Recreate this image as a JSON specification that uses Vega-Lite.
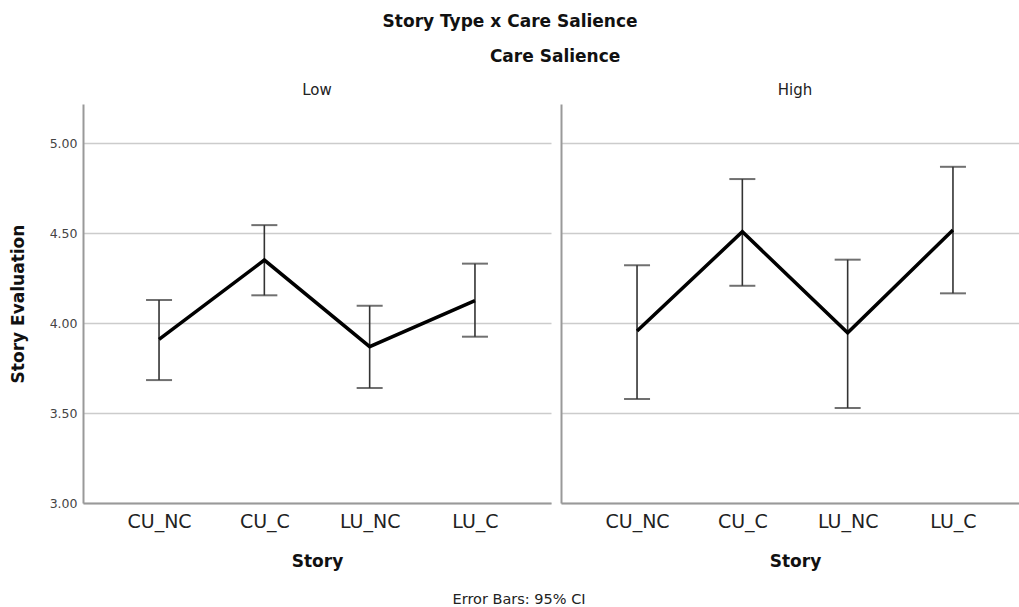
{
  "$schema": "https://vega.github.io/schema/vega-lite/v6.json",
  "background": "white",
  "padding": {"left": 9, "top": 13, "right": 0, "bottom": 0},
  "config": {
    "font": "DejaVu Sans",
    "view": {"stroke": null},
    "concat": {"spacing": 10},
    "axisY": {
      "grid": true,
      "gridColor": "#cccccc",
      "gridWidth": 1.5,
      "domainColor": "#999999",
      "domainWidth": 2,
      "ticks": false,
      "labelFontSize": 12.5,
      "labelColor": "#444444",
      "labelPadding": 6,
      "titleFontSize": 17,
      "titleFontWeight": "bold",
      "titleColor": "#111111",
      "titlePadding": 22
    },
    "axisX": {
      "labelAngle": 0,
      "labelFontSize": 19,
      "labelColor": "#222222",
      "labelPadding": 9,
      "ticks": false,
      "grid": false,
      "domainColor": "#999999",
      "domainWidth": 2,
      "titleFontSize": 17,
      "titleFontWeight": "bold",
      "titleColor": "#111111",
      "titlePadding": 22
    }
  },
  "title": {"text": "Story Type x Care Salience", "fontSize": 17, "fontWeight": "bold", "color": "#111111", "anchor": "middle", "offset": 17, "dx": -9},
  "datasets": {
    "means": [
      {"care": "Low", "story": "CU_NC", "mean": 3.909, "lo": 3.683, "hi": 4.128},
      {"care": "Low", "story": "CU_C", "mean": 4.35, "lo": 4.154, "hi": 4.544},
      {"care": "Low", "story": "LU_NC", "mean": 3.869, "lo": 3.639, "hi": 4.096},
      {"care": "Low", "story": "LU_C", "mean": 4.124, "lo": 3.924, "hi": 4.33},
      {"care": "High", "story": "CU_NC", "mean": 3.956, "lo": 3.578, "hi": 4.321},
      {"care": "High", "story": "CU_C", "mean": 4.507, "lo": 4.207, "hi": 4.8},
      {"care": "High", "story": "LU_NC", "mean": 3.946, "lo": 3.528, "hi": 4.352},
      {"care": "High", "story": "LU_C", "mean": 4.517, "lo": 4.165, "hi": 4.868}
    ]
  },
  "vconcat": [
    {
      "title": {"text": "Error Bars: 95% CI", "orient": "bottom", "fontSize": 14.5, "fontWeight": "normal", "color": "#222222", "anchor": "middle", "offset": 24},
      "vconcat": [
        {
          "title": {"text": "Care Salience", "fontSize": 17, "fontWeight": "bold", "color": "#111111", "anchor": "middle", "dx": 36, "offset": 17},
          "spacing": 10,
          "hconcat": [
            {
              "width": 468,
              "height": 399,
              "title": {"text": "Low", "fontSize": 15, "fontWeight": "normal", "color": "#222222", "offset": 6},
              "data": {"name": "means"},
              "transform": [{"filter": "datum.care === 'Low'"}],
              "encoding": {
                "x": {"field": "story", "type": "ordinal", "sort": ["CU_NC", "CU_C", "LU_NC", "LU_C"], "scale": {"type": "point", "padding": 0.722}, "title": "Story"}
              },
              "layer": [
                {
                  "mark": {"type": "rule", "color": "#333333", "strokeWidth": 1.6},
                  "encoding": {
                    "y": {"field": "lo", "type": "quantitative", "scale": {"domain": [3, 5.217], "nice": false, "zero": false}, "title": "Story Evaluation", "axis": {"values": [3, 3.5, 4, 4.5, 5], "format": ".2f"}},
                    "y2": {"field": "hi"}
                  }
                },
                {
                  "mark": {"type": "tick", "color": "#333333", "size": 26, "thickness": 2, "orient": "horizontal"},
                  "encoding": {"y": {"field": "lo", "type": "quantitative", "title": "Story Evaluation", "axis": {"values": [3, 3.5, 4, 4.5, 5], "format": ".2f"}}}
                },
                {
                  "mark": {"type": "tick", "color": "#333333", "size": 26, "thickness": 2, "orient": "horizontal"},
                  "encoding": {"y": {"field": "hi", "type": "quantitative", "title": "Story Evaluation", "axis": {"values": [3, 3.5, 4, 4.5, 5], "format": ".2f"}}}
                },
                {
                  "mark": {"type": "line", "color": "#000000", "strokeWidth": 3.5},
                  "encoding": {"y": {"field": "mean", "type": "quantitative", "title": "Story Evaluation", "axis": {"values": [3, 3.5, 4, 4.5, 5], "format": ".2f"}}}
                }
              ]
            },
            {
              "width": 468,
              "height": 399,
              "title": {"text": "High", "fontSize": 15, "fontWeight": "normal", "color": "#222222", "offset": 6},
              "data": {"name": "means"},
              "transform": [{"filter": "datum.care === 'High'"}],
              "encoding": {
                "x": {"field": "story", "type": "ordinal", "sort": ["CU_NC", "CU_C", "LU_NC", "LU_C"], "scale": {"type": "point", "padding": 0.722}, "title": "Story"}
              },
              "layer": [
                {
                  "mark": {"type": "rule", "color": "#333333", "strokeWidth": 1.6},
                  "encoding": {
                    "y": {"field": "lo", "type": "quantitative", "scale": {"domain": [3, 5.217], "nice": false, "zero": false}, "axis": {"labels": false, "title": null, "values": [3, 3.5, 4, 4.5, 5]}},
                    "y2": {"field": "hi"}
                  }
                },
                {
                  "mark": {"type": "tick", "color": "#333333", "size": 26, "thickness": 2, "orient": "horizontal"},
                  "encoding": {"y": {"field": "lo", "type": "quantitative", "axis": {"labels": false, "title": null, "values": [3, 3.5, 4, 4.5, 5]}}}
                },
                {
                  "mark": {"type": "tick", "color": "#333333", "size": 26, "thickness": 2, "orient": "horizontal"},
                  "encoding": {"y": {"field": "hi", "type": "quantitative", "axis": {"labels": false, "title": null, "values": [3, 3.5, 4, 4.5, 5]}}}
                },
                {
                  "mark": {"type": "line", "color": "#000000", "strokeWidth": 3.5},
                  "encoding": {"y": {"field": "mean", "type": "quantitative", "axis": {"labels": false, "title": null, "values": [3, 3.5, 4, 4.5, 5]}}}
                }
              ]
            }
          ]
        }
      ]
    }
  ]
}
